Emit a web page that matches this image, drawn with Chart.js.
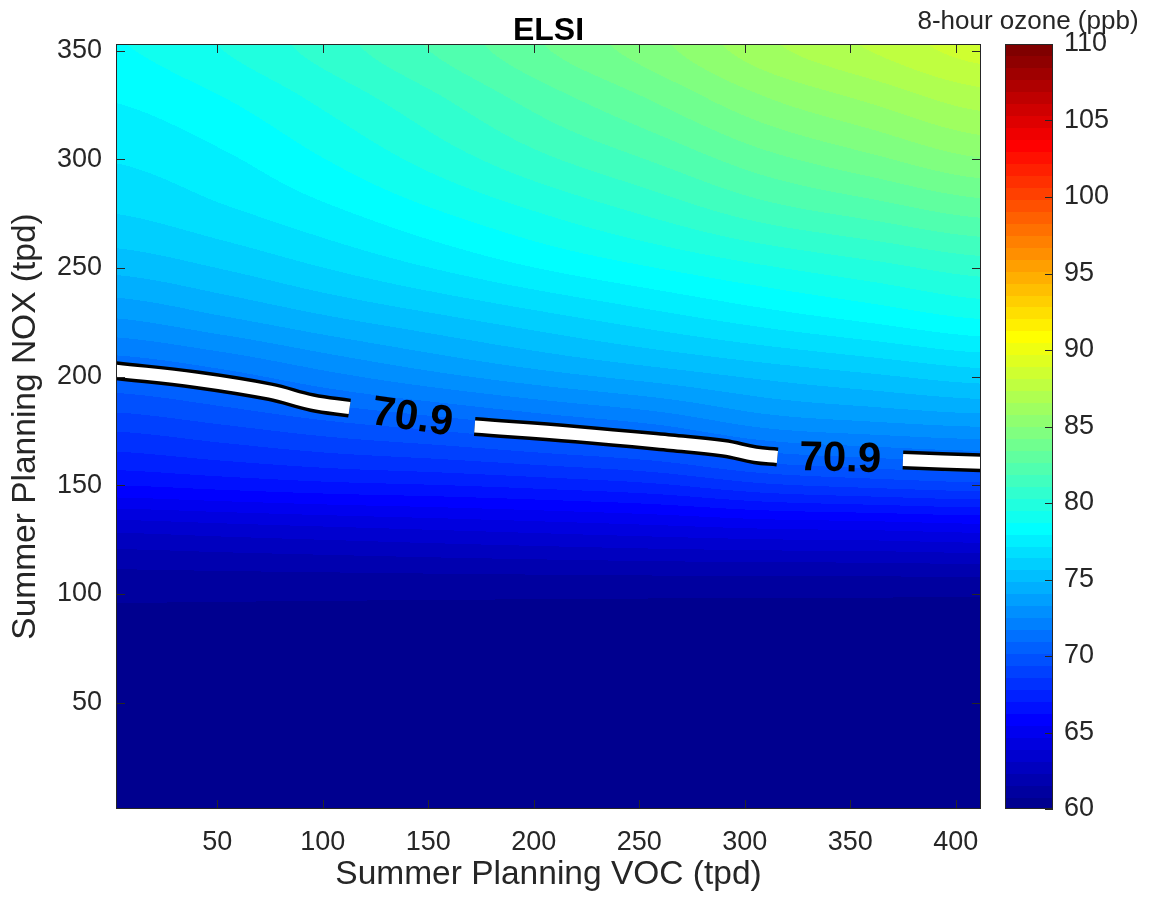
<!DOCTYPE html>
<html><head><meta charset="utf-8">
<script src="https://cdn.jsdelivr.net/npm/chart.js@4/dist/chart.umd.min.js"></script>
<style>html,body{margin:0;padding:0;background:#fff;}canvas{display:block;}</style>
</head><body>
<canvas id="c" width="1153" height="907"></canvas>
<script>
// ---- data ----
const vocGrid = [2, 53, 105, 156, 207, 258, 310, 361, 412];
const noxGrid = [1, 27, 52, 77, 102, 127, 152, 177, 202, 227, 252, 277, 302, 327, 353];
// ozone rows by NOX (bottom to top), columns by VOC
const ozoneRow001 = [60.4, 60.4, 60.4, 60.4, 60.4, 60.4, 60.4, 60.4, 60.4];
const ozoneRow027 = [60.4, 60.4, 60.4, 60.4, 60.4, 60.4, 60.4, 60.4, 60.4];
const ozoneRow052 = [60.5, 60.5, 60.5, 60.5, 60.5, 60.5, 60.5, 60.5, 60.5];
const ozoneRow077 = [60.6, 60.6, 60.6, 60.6, 60.6, 60.6, 60.6, 60.6, 60.6];
const ozoneRow102 = [61.0, 61.0, 61.0, 61.0, 61.0, 61.0, 61.0, 61.0, 61.0];
const ozoneRow127 = [63.0, 63.2, 63.4, 63.6, 63.8, 64.0, 64.2, 64.3, 64.5];
const ozoneRow152 = [66.5, 66.8, 67.1, 67.3, 67.6, 68.0, 68.8, 69.2, 69.5];
const ozoneRow177 = [68.8, 69.3, 69.9, 70.4, 71.0, 71.6, 72.6, 73.0, 73.3];
const ozoneRow202 = [71.0, 71.6, 72.5, 73.3, 74.0, 74.6, 75.2, 75.7, 76.2];
const ozoneRow227 = [73.3, 74.0, 74.8, 75.5, 76.2, 76.9, 77.6, 78.2, 78.8];
const ozoneRow252 = [75.2, 75.8, 76.6, 77.4, 78.2, 78.9, 79.6, 80.2, 80.8];
const ozoneRow277 = [76.5, 77.1, 77.9, 78.8, 79.7, 80.6, 81.6, 82.3, 83.0];
const ozoneRow302 = [77.3, 77.9, 78.9, 80.0, 81.1, 82.1, 83.3, 84.2, 85.1];
const ozoneRow327 = [78.0, 78.7, 79.8, 81.0, 82.3, 83.5, 84.9, 85.9, 86.9];
const ozoneRow353 = [78.7, 79.6, 80.8, 82.1, 83.5, 84.8, 86.4, 87.5, 88.6];
const ozone = [ozoneRow001, ozoneRow027, ozoneRow052, ozoneRow077, ozoneRow102, ozoneRow127,
  ozoneRow152, ozoneRow177, ozoneRow202, ozoneRow227, ozoneRow252, ozoneRow277,
  ozoneRow302, ozoneRow327, ozoneRow353];

const xTicks = [50, 100, 150, 200, 250, 300, 350, 400];
const yTicks = [50, 100, 150, 200, 250, 300, 350];
const cbTicks = [60, 65, 70, 75, 80, 85, 90, 95, 100, 105, 110];
const cbMin = 60, cbMax = 110, cbLevels = 64;

const contourLevel = 70.9;
// contour line (null = gap for the label)
const contourVOC = [2, 40, 75, 95, 112.7, 140, 172, 220, 265, 290, 305, 315.5, 345, 375, 412];
const contourNOX = [202.7, 198.5, 193, 188, 185.5, null, 177, 173.5, 169.5, 167, 164, 163, null, 161.6, 160.3];

// ---- helpers ----
const FONT = "'Liberation Sans', Arial, Helvetica, sans-serif";
function fracIndex(arr, v) {
  if (v <= arr[0]) return 0;
  if (v >= arr[arr.length - 1]) return arr.length - 1;
  let i = 0;
  while (i < arr.length - 2 && v > arr[i + 1]) i++;
  return i + (v - arr[i]) / (arr[i + 1] - arr[i]);
}
function cr(p0, p1, p2, p3, t) { // Catmull-Rom
  return p1 + 0.5 * t * (p2 - p0 + t * (2 * p0 - 5 * p1 + 4 * p2 - p3 + t * (3 * (p1 - p2) + p3 - p0)));
}
function gridVal(j, i) {
  j = Math.max(0, Math.min(noxGrid.length - 1, j));
  i = Math.max(0, Math.min(vocGrid.length - 1, i));
  return ozone[j][i];
}
function fieldAt(voc, nox) {
  const u = fracIndex(vocGrid, voc), w = fracIndex(noxGrid, nox);
  const i = Math.min(Math.floor(u), vocGrid.length - 2), j = Math.min(Math.floor(w), noxGrid.length - 2);
  const tu = u - i, tw = w - j;
  const rows = [];
  for (let m = -1; m <= 2; m++) {
    rows.push(cr(gridVal(j + m, i - 1), gridVal(j + m, i), gridVal(j + m, i + 1), gridVal(j + m, i + 2), tu));
  }
  return cr(rows[0], rows[1], rows[2], rows[3], tw);
}
function clamp01(v) { return v < 0 ? 0 : v > 1 ? 1 : v; }
function jet(k) { // k = 0..cbLevels-1, like MATLAB jet(64)
  const t = (k + 1) / cbLevels;
  return [clamp01(1.5 - Math.abs(4 * t - 3)), clamp01(1.5 - Math.abs(4 * t - 2)), clamp01(1.5 - Math.abs(4 * t - 1))]
    .map(v => Math.round(v * 255));
}
const jetTable = Array.from({length: cbLevels}, (_, k) => jet(k));
function levelOf(v) {
  let k = Math.floor((v - cbMin) / (cbMax - cbMin) * cbLevels);
  return k < 0 ? 0 : k >= cbLevels ? cbLevels - 1 : k;
}

const AX = '#262626';
const TICKLEN = 9;
const CB_GAP = 24, CB_W = 48, CB_TICK = 8;

const fieldPlugin = {
  id: 'field',
  beforeDatasetsDraw(chart) {
    const {ctx, chartArea: a, scales: {x, y}} = chart;
    const L = Math.round(a.left), T = Math.round(a.top);
    const W = Math.round(a.right) - L, H = Math.round(a.bottom) - T;
    const img = ctx.createImageData(W, H);
    const d = img.data;
    for (let j = 0; j < H; j++) {
      const nv = y.getValueForPixel(T + j + 0.5);
      for (let i = 0; i < W; i++) {
        const vv = x.getValueForPixel(L + i + 0.5);
        const c = jetTable[levelOf(fieldAt(vv, nv))];
        const p = (j * W + i) * 4;
        d[p] = c[0]; d[p + 1] = c[1]; d[p + 2] = c[2]; d[p + 3] = 255;
      }
    }
    ctx.putImageData(img, L, T);
  },
  afterDraw(chart) {
    const {ctx, chartArea: a, scales: {x, y, cb}} = chart;
    ctx.save();
    // title
    ctx.fillStyle = '#000';
    ctx.font = "bold 32px " + FONT;
    ctx.textAlign = 'center'; ctx.textBaseline = 'alphabetic';
    ctx.fillText('ELSI', (a.left + a.right) / 2, a.top - 4);

    // axes box + inward ticks
    ctx.strokeStyle = AX; ctx.lineWidth = 1;
    ctx.strokeRect(Math.round(a.left) + 0.5, Math.round(a.top) + 0.5, Math.round(a.right - a.left) - 1, Math.round(a.bottom - a.top) - 1);
    ctx.beginPath();
    xTicks.forEach(v => {
      const px = Math.round(x.getPixelForValue(v)) + 0.5;
      ctx.moveTo(px, a.bottom); ctx.lineTo(px, a.bottom - TICKLEN);
      ctx.moveTo(px, a.top); ctx.lineTo(px, a.top + TICKLEN);
    });
    yTicks.forEach(v => {
      const py = Math.round(y.getPixelForValue(v)) + 0.5;
      ctx.moveTo(a.left, py); ctx.lineTo(a.left + TICKLEN, py);
      ctx.moveTo(a.right, py); ctx.lineTo(a.right - TICKLEN, py);
    });
    ctx.stroke();

    // contour labels in the gaps
    ctx.fillStyle = '#000';
    ctx.font = "bold 42px " + FONT;
    ctx.textAlign = 'center'; ctx.textBaseline = 'middle';
    for (let i = 0; i < contourNOX.length; i++) {
      if (contourNOX[i] !== null) continue;
      const x0 = x.getPixelForValue(contourVOC[i - 1]), y0 = y.getPixelForValue(contourNOX[i - 1]);
      const x1 = x.getPixelForValue(contourVOC[i + 1]), y1 = y.getPixelForValue(contourNOX[i + 1]);
      ctx.save();
      ctx.translate((x0 + x1) / 2, (y0 + y1) / 2 + 1);
      ctx.rotate(Math.atan2(y1 - y0, x1 - x0));
      ctx.fillText(contourLevel.toFixed(1), 0, 0);
      ctx.restore();
    }

    // colorbar
    const cbL = Math.round(a.right) + CB_GAP;
    const step = (cbMax - cbMin) / cbLevels;
    for (let k = 0; k < cbLevels; k++) {
      const c = jetTable[k];
      const yTop = cb.getPixelForValue(cbMin + (k + 1) * step);
      const yBot = cb.getPixelForValue(cbMin + k * step);
      ctx.fillStyle = `rgb(${c[0]},${c[1]},${c[2]})`;
      ctx.fillRect(cbL, Math.floor(yTop), CB_W, Math.ceil(yBot) - Math.floor(yTop));
    }
    ctx.strokeStyle = AX; ctx.lineWidth = 1;
    ctx.strokeRect(cbL + 0.5, Math.round(cb.top) + 0.5, CB_W - 1, Math.round(cb.bottom - cb.top) - 1);
    ctx.beginPath();
    cbTicks.forEach(v => {
      const py = Math.round(cb.getPixelForValue(v)) + 0.5;
      ctx.moveTo(cbL + CB_W, py); ctx.lineTo(cbL + CB_W - CB_TICK, py);
    });
    ctx.stroke();
    ctx.fillStyle = AX;
    ctx.font = "26px " + FONT;
    ctx.textAlign = 'center'; ctx.textBaseline = 'middle';
    ctx.fillText('8-hour ozone (ppb)', cbL + CB_W / 2 - 1, 22);
    ctx.restore();
  }
};

const lineData = contourVOC.map((v, i) => ({x: v, y: contourNOX[i]}));
const noVertPad = s => { s.paddingTop = 0; s.paddingBottom = 0; };

new Chart(document.getElementById('c'), {
  type: 'line',
  data: {
    datasets: [
      {data: lineData, borderColor: '#ffffff', borderWidth: 12, pointRadius: 0, tension: 0.4,
        spanGaps: false, borderCapStyle: 'butt', borderJoinStyle: 'round', clip: 0, fill: false},
      {data: lineData, borderColor: '#000000', borderWidth: 19, pointRadius: 0, tension: 0.4,
        spanGaps: false, borderCapStyle: 'butt', borderJoinStyle: 'round', clip: 0, fill: false}
    ]
  },
  options: {
    responsive: false, animation: false, events: [],
    layout: {padding: {top: 44, left: 0, right: 0, bottom: 0}},
    plugins: {legend: {display: false}, tooltip: {enabled: false}, title: {display: false}},
    scales: {
      x: {
        type: 'linear', min: 2, max: 412,
        afterBuildTicks: s => { s.ticks = xTicks.map(v => ({value: v})); },
        afterFit: s => { s.height = 98; s.paddingLeft = 0; s.paddingRight = 0; },
        grid: {display: false, drawTicks: false}, border: {display: false},
        ticks: {color: AX, font: {family: FONT, size: 27}, padding: 17, maxRotation: 0, autoSkip: false},
        title: {display: true, text: 'Summer Planning VOC (tpd)', color: AX,
          font: {family: FONT, size: 33.5}, padding: {top: 0, bottom: 12}}
      },
      y: {
        type: 'linear', min: 1, max: 353,
        afterBuildTicks: s => { s.ticks = yTicks.map(v => ({value: v})); },
        afterFit: s => { s.width = 116; noVertPad(s); },
        grid: {display: false, drawTicks: false}, border: {display: false},
        ticks: {color: AX, font: {family: FONT, size: 27}, padding: 14, autoSkip: false},
        title: {display: true, text: 'Summer Planning NOX (tpd)', color: AX,
          font: {family: FONT, size: 33.5}, padding: {top: 6, bottom: 0}}
      },
      cb: {
        axis: 'y', position: 'right', type: 'linear', min: cbMin, max: cbMax,
        afterBuildTicks: s => { s.ticks = cbTicks.map(v => ({value: v})); },
        afterFit: s => { s.width = 172; noVertPad(s); },
        grid: {display: false, drawTicks: false}, border: {display: false},
        ticks: {color: AX, font: {family: FONT, size: 27}, padding: 83, autoSkip: false}
      }
    }
  },
  plugins: [fieldPlugin]
});
</script>
</body></html>
